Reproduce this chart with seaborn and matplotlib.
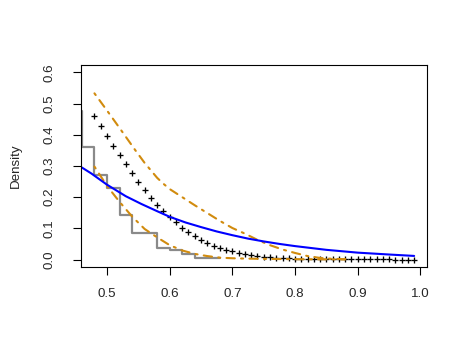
import numpy as np
import pandas as pd
import matplotlib
matplotlib.use("Agg")
import matplotlib.pyplot as plt
import seaborn as sns

# stepped histogram (value at each x applies to the bin on its left)
hist_x = [0.46, 0.48, 0.50, 0.52, 0.54, 0.56, 0.58, 0.60, 0.62, 0.64, 0.66, 0.68]
hist_y = [0.475, 0.362, 0.272, 0.229, 0.144, 0.084, 0.084, 0.038, 0.030, 0.017, 0.005, 0.004]

# blue curve
blue_x = [0.46, 0.475, 0.50, 0.53, 0.555, 0.58, 0.60, 0.625, 0.65, 0.675, 0.70,
          0.725, 0.75, 0.775, 0.80, 0.85, 0.90, 0.95, 0.99]
blue_y = [0.295, 0.276, 0.240, 0.203, 0.178, 0.155, 0.137, 0.119, 0.104, 0.090, 0.078,
          0.067, 0.058, 0.050, 0.043, 0.031, 0.022, 0.016, 0.0115]

# "+" points
plus_x = np.round(np.arange(0.48, 0.995, 0.01), 2)
plus_y = [0.461, 0.429, 0.397, 0.365, 0.334, 0.305, 0.276, 0.248, 0.222, 0.198,
          0.176, 0.155, 0.136, 0.119, 0.102, 0.087, 0.074, 0.063, 0.053, 0.044,
          0.037, 0.031, 0.026, 0.022, 0.018, 0.015, 0.012, 0.0095, 0.0075, 0.006,
          0.0047, 0.0037, 0.0029, 0.0022, 0.0017, 0.0013, 0.001, 0.0008, 0.0006, 0.0005,
          0.0004, 0.0003, 0.0002, 0.0002, 0.0001, 0.0001, 0.0001, 0.0001, 0.0, 0.0,
          0.0, 0.0]

# orange dot-dash bands
upper_x = [0.48, 0.50, 0.52, 0.545, 0.56, 0.58, 0.59, 0.60, 0.62, 0.64, 0.66, 0.68,
           0.70, 0.72, 0.74, 0.76, 0.78, 0.80, 0.82, 0.84, 0.86, 0.88]
upper_y = [0.533, 0.478, 0.422, 0.351, 0.310, 0.262, 0.243, 0.226, 0.200, 0.174, 0.149,
           0.124, 0.101, 0.083, 0.063, 0.046, 0.032, 0.021, 0.011, 0.005, 0.002, 0.001]
lower_x = [0.48, 0.50, 0.52, 0.54, 0.56, 0.58, 0.60, 0.62, 0.64, 0.66, 0.68, 0.70,
           0.72, 0.75, 0.80, 0.85, 0.88]
lower_y = [0.298, 0.236, 0.185, 0.138, 0.098, 0.071, 0.046, 0.029, 0.018, 0.011, 0.006,
           0.004, 0.003, 0.002, 0.001, 0.0005, 0.0003]

sns.set_style("ticks")
plt.rcParams['font.family'] = ['Liberation Sans', 'DejaVu Sans']
plt.rcParams['font.size'] = 9.6

fig = plt.figure(figsize=(4.7, 3.49), dpi=100)
ax = fig.add_axes([0.1723, 0.235, 0.7362, 0.5788])

orange = '#D18B0E'
dd = (0, (1, 3, 4, 3))

sns.lineplot(x=hist_x, y=hist_y, ax=ax, color='#8a8a8a', lw=1.6,
             drawstyle='steps-pre', sort=False)
sns.lineplot(x=upper_x, y=upper_y, ax=ax, color=orange, lw=1.5, linestyle=dd,
             dash_capstyle='round')
sns.lineplot(x=lower_x, y=lower_y, ax=ax, color=orange, lw=1.5, linestyle=dd,
             dash_capstyle='round')
sns.scatterplot(x=plus_x, y=plus_y, ax=ax, marker='+', color='black', s=18,
                linewidth=0.95)
sns.lineplot(x=blue_x, y=blue_y, ax=ax, color='#0000FF', lw=1.5)

ax.set_xlim(0.4585, 1.0105)
ax.set_ylim(-0.024, 0.624)
ax.set_xticks([0.5, 0.6, 0.7, 0.8, 0.9, 1.0])
ax.set_xticklabels(['0.5', '0.6', '0.7', '0.8', '0.9', '1.0'])
ax.set_yticks([0.0, 0.1, 0.2, 0.3, 0.4, 0.5, 0.6])
ax.set_yticklabels(['0.0', '0.1', '0.2', '0.3', '0.4', '0.5', '0.6'],
                   rotation=90, va='center')

for s in ax.spines.values():
    s.set_visible(True)
    s.set_color('black')
    s.set_linewidth(0.8)
ax.tick_params(axis='both', direction='out', length=6, width=0.8, color='black',
               labelsize=9.6)
ax.tick_params(axis='x', pad=9)
ax.tick_params(axis='y', pad=12)

ax.set_xlabel('')
ax.set_ylabel('Density', fontsize=9.6)
ax.yaxis.set_label_coords(-0.17, 0.5)

fig.savefig('out.png', dpi=100)
